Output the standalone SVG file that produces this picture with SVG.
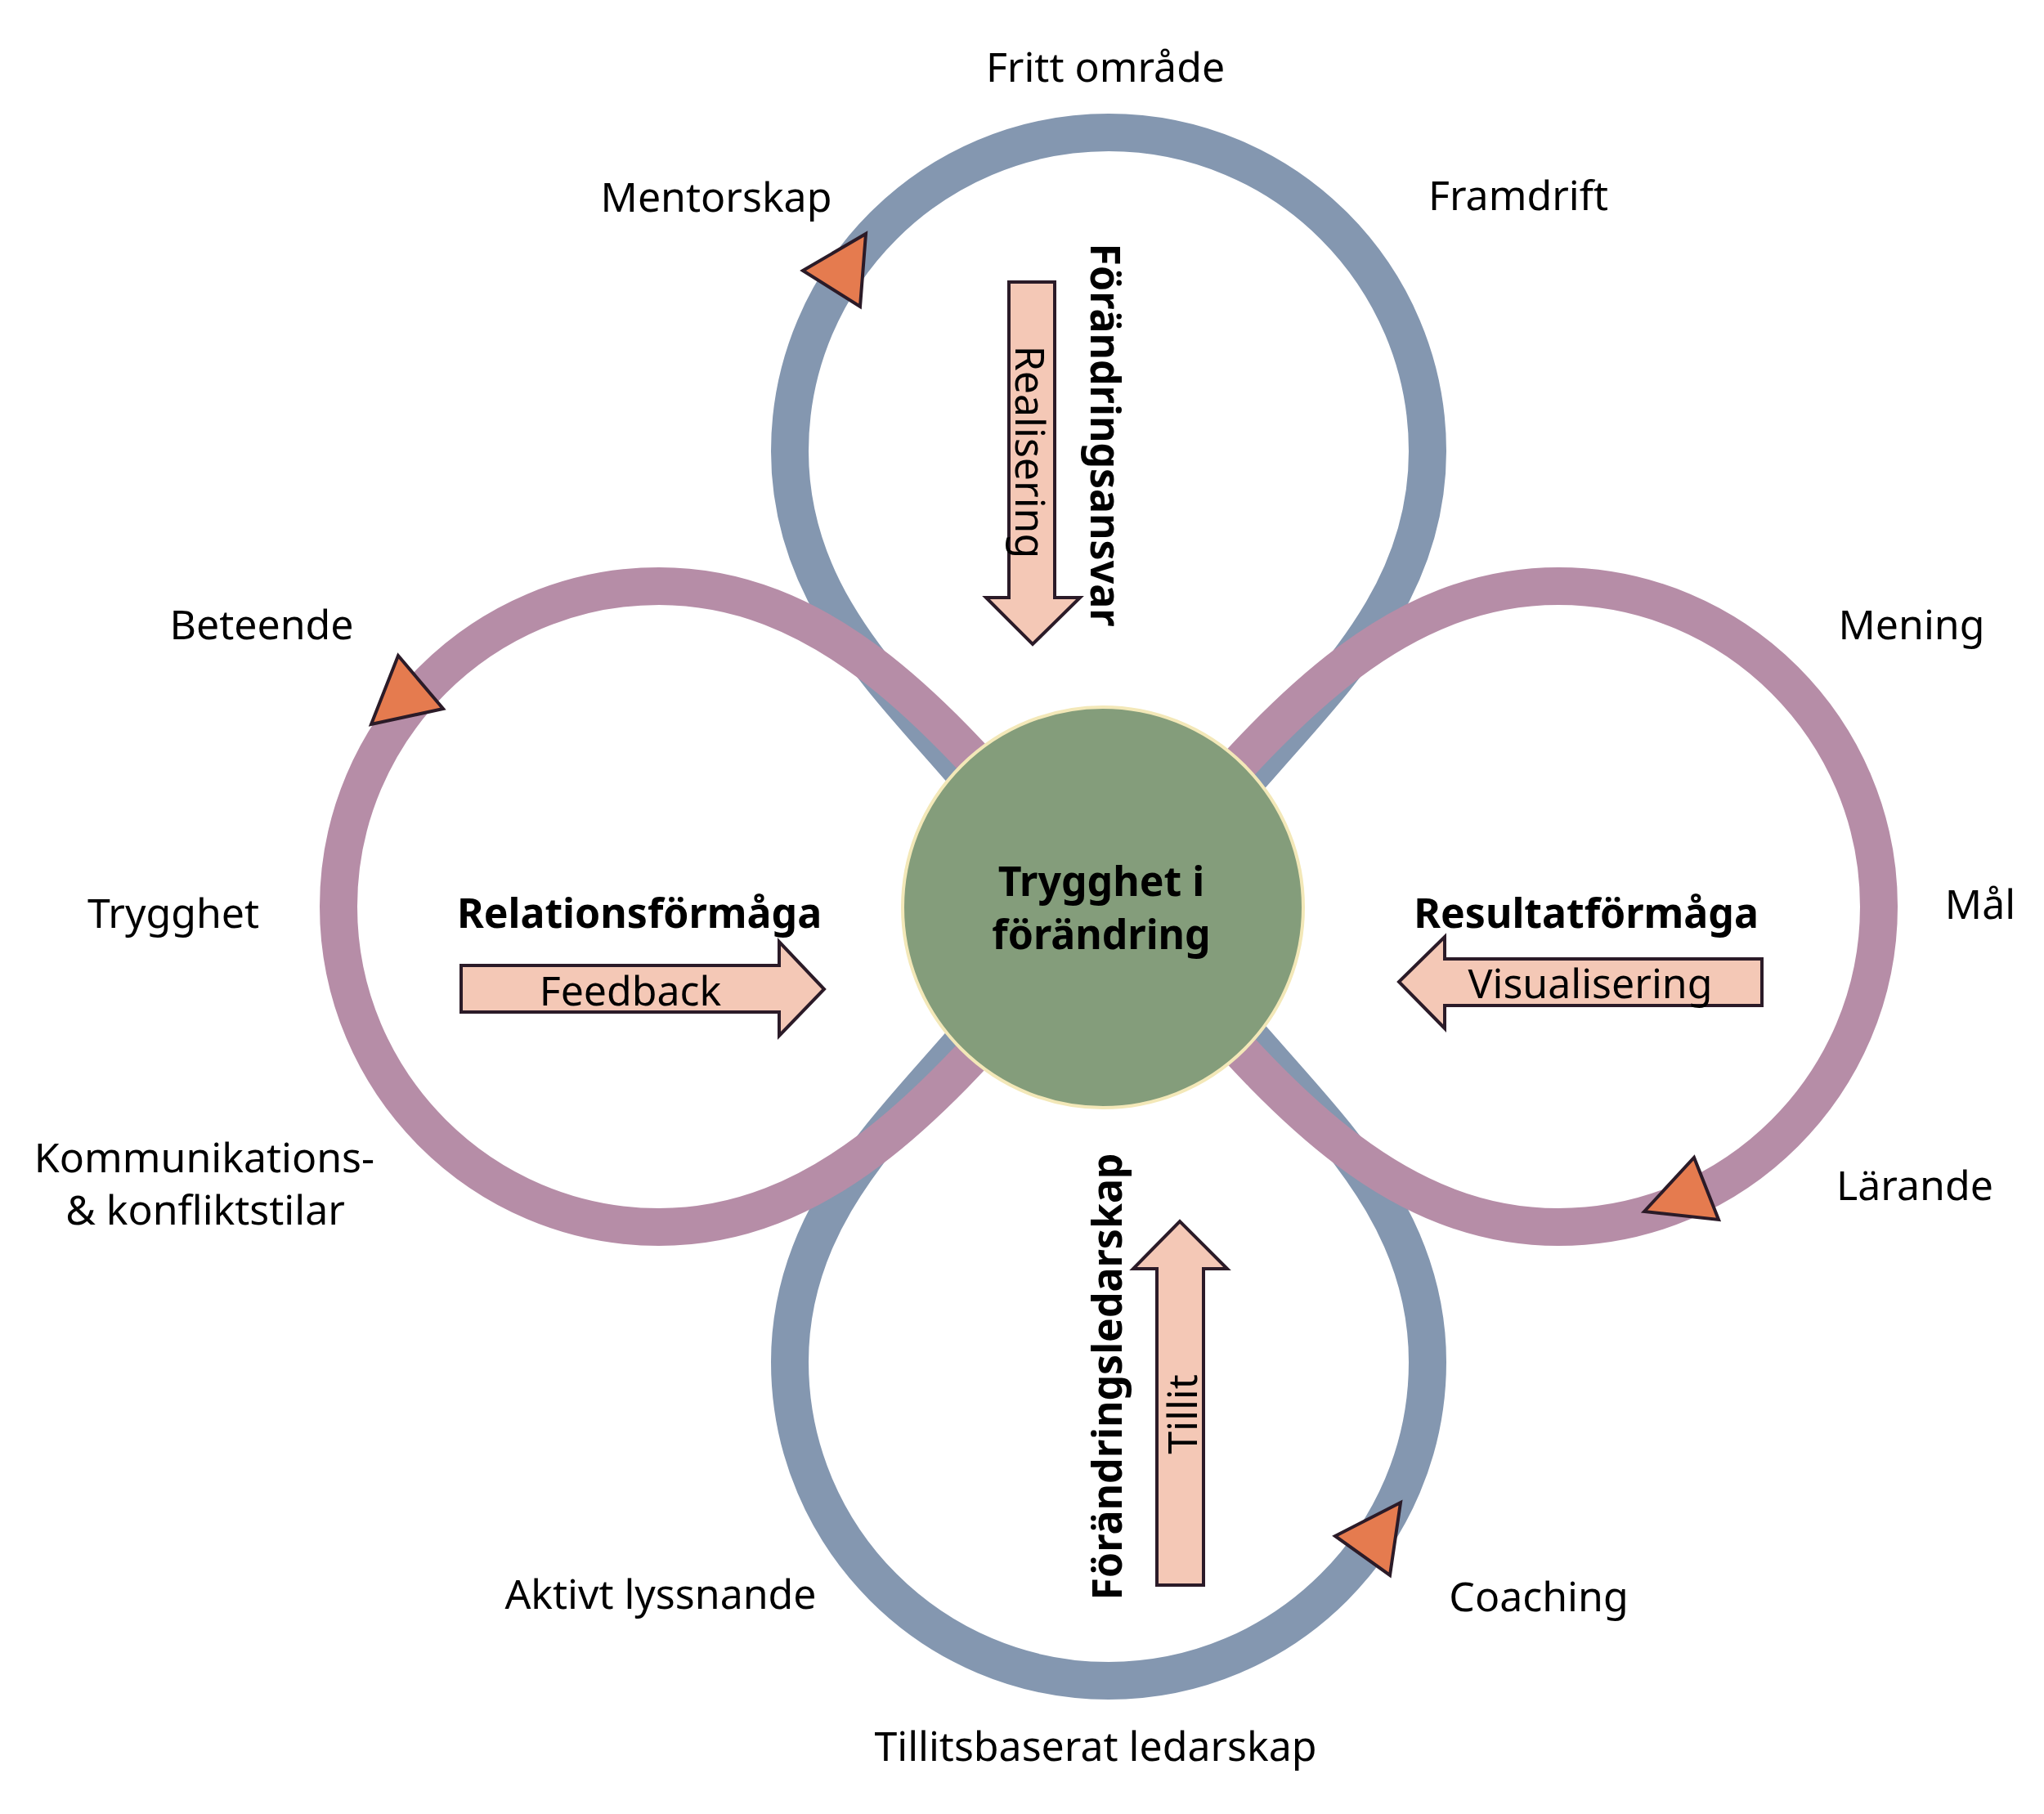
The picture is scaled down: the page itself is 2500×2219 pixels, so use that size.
<svg xmlns="http://www.w3.org/2000/svg" width="2500" height="2219" viewBox="0 0 2500 2219">
<style>
.loop{fill:none;stroke-width:46;stroke-linejoin:round}
.blue{stroke:#8497B0}
.mauve{stroke:#B68DA7}
.tip{fill:#E57B4F;stroke:#2B1B28;stroke-width:4;stroke-linejoin:miter}
.barrow{fill:#F4C8B6;stroke:#2B1B28;stroke-width:4;stroke-linejoin:miter}
text{font-family:"Noto Sans","Open Sans","Liberation Sans",sans-serif;font-size:50px;fill:#000;text-anchor:middle}
.b{font-weight:bold}
</style>
<rect width="2500" height="2219" fill="#fff"/>
<g id="connectors">
<path id="loops-vertical" class="loop blue" d="M1356,1109 C1296,1064 1220,993 1174,940 C1076,827 966,722 966,552 C966,337 1141,162 1356,162 C1571,162 1746,337 1746,552 C1746,722 1636,827 1538,940 C1492,993 1416,1064 1356,1109 C1296,1154 1220,1225 1174,1278 C1076,1391 966,1496 966,1666 C966,1881 1141,2056 1356,2056 C1571,2056 1746,1881 1746,1666 C1746,1496 1636,1391 1538,1278 C1492,1225 1416,1154 1356,1109 Z"/>
<path id="loops-horizontal" class="loop mauve" d="M1356,1109 C1206,959 1056,717 806,717 C590,717 414,893 414,1109 C414,1325 590,1501 806,1501 C1056,1501 1206,1259 1356,1109 C1506,959 1656,717 1906,717 C2122,717 2298,893 2298,1109 C2298,1325 2122,1501 1906,1501 C1656,1501 1506,1259 1356,1109 Z"/>
<polygon class="tip" points="982,331 1059,286 1052,375"/>
<polygon class="tip" points="487,802 542,867 454,886"/>
<polygon class="tip" points="2011,1482 2072,1416 2102,1492"/>
<polygon class="tip" points="1633,1879 1713,1838 1700,1927"/>
</g>
<g id="center">
<circle cx="1349" cy="1110" r="245" fill="#849D7B" stroke="#F3E8B8" stroke-width="4"/>
<text class="b" x="1347" y="1096">Trygghet i</text>
<text class="b" x="1347" y="1161">förändring</text>
</g>
<g id="top">
<path class="barrow" d="M1234,345 H1290 V731 H1321 L1263,788 L1206,731 H1234 Z"/>
<text transform="translate(1242,553) rotate(90)">Realisering</text>
<text class="b" transform="translate(1334,532) rotate(90)">Förändringsansvar</text>
</g>
<g id="left">
<text class="b" x="782" y="1135">Relationsförmåga</text>
<path class="barrow" d="M564,1181 H953 V1152 L1008,1210 L953,1267 V1238 H564 Z"/>
<text x="771" y="1230">Feedback</text>
</g>
<g id="right">
<text class="b" x="1940" y="1135">Resultatförmåga</text>
<path class="barrow" d="M2155,1173 H1767 V1146 L1711,1201 L1767,1258 V1230 H2155 Z"/>
<text x="1945" y="1221">Visualisering</text>
</g>
<g id="bottom">
<path class="barrow" d="M1415,1939 H1472 V1552 H1501 L1443,1494 L1386,1552 H1415 Z"/>
<text transform="translate(1464,1730) rotate(-90)">Tillit</text>
<text class="b" transform="translate(1372,1684) rotate(-90)">Förändringsledarskap</text>
</g>
<g id="labels">
<text x="1352" y="100">Fritt område</text>
<text x="876" y="259">Mentorskap</text>
<text x="1857" y="257">Framdrift</text>
<text x="320" y="782">Beteende</text>
<text x="2338" y="782">Mening</text>
<text x="212" y="1135">Trygghet</text>
<text x="2422" y="1124">Mål</text>
<text x="250" y="1434">Kommunikations-</text>
<text x="251" y="1498">&amp; konfliktstilar</text>
<text x="2342" y="1468">Lärande</text>
<text x="808" y="1968">Aktivt lyssnande</text>
<text x="1882" y="1971">Coaching</text>
<text x="1340" y="2154">Tillitsbaserat ledarskap</text>
</g>
</svg>
